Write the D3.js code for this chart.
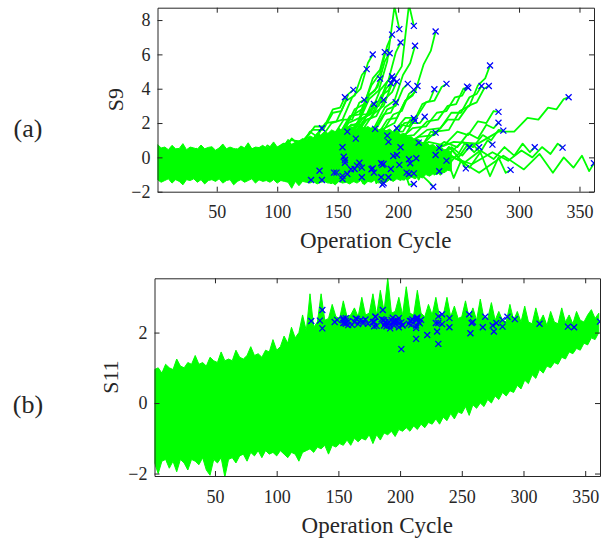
<!DOCTYPE html>
<html>
<head>
<meta charset="utf-8">
<script src="https://cdn.jsdelivr.net/npm/d3@7"></script>
<style>
  body { margin: 0; background: #fff; }
  text { font-family: "Liberation Serif", "Times New Roman", serif; fill: #262626; }
</style>
</head>
<body>
<svg id="chart" width="615" height="539"></svg>
<script>
// engine lifetimes (cycle of the last record, where the blue x sits)
const lifeCycles = [213,201,195,231,202,214,179,189,193,174, 276,185,195,196,194,199,208,216,213,230,
  240,257,258,269,275,163,156,172,180,188, 198,341,283,213,214,222,283,287,158,181,
  199,231,165,191,192,217,202,154,234,259, 267,278,313,336,196,199,155,231,156,209,
  215,240,362,168,166,164,186,187,201,210, 179,194,170,158,180,207,209,213,234,256,
  293,170,186,192,188,154,213,229,137,128, 135,137,147,149,154,156,161,178,188,187];

// S9 value at the last cycle
const s9End = [7.66,7.47,7.15,7.33,6.69,6.5,5.99,6.13,6.07,5.14, 5.35,4.59,4.71,4.55,4.32,4.41,4.28,4.16,3.93,3.97,
  4.28,4.12,4.06,4.16,4.16,3.93,3.5,3.35,3.11,3.35, 3.21,3.5,2.65,2.28,2.14,2.37,2.02,1.56,1.5,1.66,
  1.7,1.44,1.09,1.27,0.9,0.86,0.59,0.59,0.55,0.59, 0.59,0.74,0.59,0.57,0.08,0.14,0.04,0.14,-0.31,-0.11,
  -0.05,-0.19,-0.34,-0.31,-0.48,-0.68,-0.34,-0.44,-0.44,-0.34, -0.64,-0.68,-0.6,-0.97,-0.89,-0.89,-0.97,-0.93,-0.81,-0.64,
  -0.73,-1.16,-1.16,-1.16,-1.51,-1.26,-1.55,-1.71,1.7,-1.32, -0.78,-1.32,-0.89,-0.89,-1.08,-0.15,-0.69,-0.69,-0.38,-1.59];

// S11 value at the last cycle
const s11End = [2.35,1.53,2.28,2.46,2.22,2.4,2.3,2.18,2.36,2.25, 2.03,2.38,2.2,2.31,2.42,2.15,2.33,2.26,1.82,2.03,
  2.41,1.98,2.27,2.45,2.2,2.3,2.25,2.37,2.45,2.29, 2.34,2.15,2.36,2.2,2.43,1.93,2.17,2.45,2.32,2.19,
  2.26,1.68,2.38,2.3,2.12,2.36,2.2,2.4,2.52,2.3, 2.15,2.27,2.25,2.17,2.35,2.41,2.28,2.27,2.33,2.22,
  2.3,2.15,2.31,2.35,2.24,2.4,2.64,2.2,2.29,2.37, 2.18,2.3,2.32,2.21,2.45,2.25,2.33,2.4,2.24,2.52,
  2.38,2.26,2.36,2.2,2.3,2.35,2.13,2.27,2.64,2.33, 2.34,2.12,2.3,2.36,2.27,2.41,2.22,2.3,2.27,2.35];

// S9 tail of every engine, read at these cycles before the end
const knotOffsets = [-120,-95,-75,-58,-45,-34,-25,-17,-10,-4];
const s9Tails = [
  [-0.4,0.3,0.2,1.1,1.3,2.5,3.0,4.5,5.3,8.9],[0.1,-0.2,0.5,0.7,1.7,2.0,3.4,3.9,5.6,8.8],
  [-0.5,0.2,0.1,1.0,1.2,2.4,2.8,4.2,4.9,6.5],[0.2,-0.1,0.5,0.6,1.6,2.0,3.3,3.8,5.4,6.2],
  [-0.3,0.3,0.1,0.9,1.1,2.2,2.5,3.9,4.5,6.1],[0.1,-0.3,0.4,0.5,1.4,1.7,2.9,3.3,4.8,5.5],
  [-0.6,0.1,0.0,0.8,0.9,2.0,2.2,3.5,4.0,5.5],[0.0,-0.4,0.4,0.4,1.4,1.5,2.8,3.1,4.6,5.1],
  [-0.2,0.2,0.0,0.9,0.9,2.0,2.3,3.6,4.1,5.6],[-0.4,0.3,0.2,0.9,1.0,2.0,2.1,3.3,3.6,4.8],
  [0.1,-0.1,0.6,0.6,1.5,1.6,2.7,3.0,4.2,4.6],[0.2,-0.2,0.5,0.4,1.3,1.3,2.4,2.5,3.6,3.9],
  [-0.4,0.3,0.1,0.9,0.9,1.9,1.9,3.1,3.3,4.4],[0.0,-0.3,0.5,0.5,1.3,1.4,2.3,2.6,3.6,3.9],
  [-0.5,0.2,0.0,0.8,0.8,1.7,1.8,2.8,3.0,4.0],[0.1,-0.1,0.4,0.4,1.2,1.3,2.2,2.4,3.4,3.8],
  [-0.3,0.3,0.1,0.8,0.8,1.6,1.8,2.8,3.0,4.0],[0.2,-0.2,0.5,0.4,1.2,1.2,2.2,2.3,3.3,3.6],
  [-0.4,0.2,0.0,0.7,0.7,1.5,1.6,2.5,2.7,3.7],[0.0,-0.2,0.4,0.3,1.1,1.1,2.0,2.1,3.1,3.3],
  [-0.2,0.6,0.5,1.3,1.4,2.3,2.3,3.2,3.3,4.1],[0.3,0.2,0.9,0.9,1.7,1.8,2.6,2.7,3.5,3.6],
  [-0.1,0.5,0.5,1.2,1.3,2.1,2.2,3.0,3.1,4.0],[0.2,0.1,0.8,0.9,1.6,1.7,2.6,2.6,3.5,3.7],
  [-0.1,0.4,0.5,1.2,1.3,2.2,2.2,3.0,3.2,4.0],[-0.5,0.2,0.0,0.8,0.7,1.6,1.6,2.6,2.7,3.7],
  [0.1,-0.3,0.4,0.2,1.0,0.9,1.8,1.8,2.8,2.9],[-0.4,0.2,-0.1,0.6,0.5,1.3,1.3,2.2,2.2,3.2],
  [0.1,-0.3,0.4,0.1,0.9,0.8,1.6,1.6,2.5,2.5],[-0.3,0.1,0.0,0.6,0.5,1.3,1.3,2.1,2.3,3.1],
  [0.2,-0.2,0.3,0.2,0.9,0.9,1.6,1.7,2.5,2.6],[0.2,0.9,0.8,1.5,1.5,2.3,2.2,2.9,2.8,3.4],
  [-0.3,0.4,0.2,0.9,0.7,1.5,1.3,2.1,2.0,2.7],[0.2,-0.5,0.4,-0.1,0.8,0.4,1.3,1.0,1.9,1.8],
  [-0.5,0.1,-0.2,0.5,0.2,1.0,0.8,1.5,1.5,2.2],[0.0,-0.3,0.3,0.1,0.7,0.6,1.2,1.2,2.0,2.0],
  [0.2,-0.2,0.5,0.2,0.9,0.6,1.4,1.1,1.9,1.7],[-0.5,0.3,-0.2,0.6,0.2,0.9,0.6,1.3,1.0,1.6],
  [0.2,-0.6,0.3,-0.4,0.6,0.0,1.0,0.5,1.4,1.1],[-0.6,0.2,-0.4,0.4,-0.1,0.7,0.3,1.1,0.9,1.6],
  [0.3,-0.4,0.2,-0.2,0.5,0.1,0.9,0.6,1.4,1.2],[-0.4,0.3,-0.3,0.3,0.0,0.7,0.3,1.0,0.8,1.5],
  [0.1,-0.7,0.2,-0.4,0.4,-0.1,0.7,0.3,1.0,0.7],[-0.7,0.1,-0.5,0.3,-0.2,0.6,0.1,0.9,0.6,1.3],
  [0.2,-0.6,0.3,-0.5,0.4,-0.2,0.6,0.1,0.9,0.5],[-0.6,0.3,-0.4,0.4,-0.3,0.5,0.0,0.7,0.3,1.0],
  [0.3,-0.7,0.2,-0.5,0.3,-0.4,0.5,-0.1,0.7,0.2],[-0.8,0.1,-0.6,0.3,-0.5,0.4,-0.2,0.6,0.0,0.8],
  [0.1,-0.7,0.3,-0.4,0.4,-0.3,0.5,0.0,0.8,0.3],[-0.5,0.2,-0.6,0.3,-0.3,0.5,-0.1,0.6,0.1,0.8],
  [0.2,-0.6,0.2,-0.4,0.5,-0.2,0.6,0.0,0.7,0.3],[-0.6,0.1,-0.3,0.4,-0.1,0.6,0.1,0.8,0.3,1.0],
  [0.0,-0.6,0.2,-0.3,0.4,-0.1,0.6,0.1,0.8,0.3],[-0.5,0.1,-0.4,0.3,-0.2,0.4,0.0,0.6,0.2,0.8],
  [0.3,-0.8,0.1,-0.6,0.4,-0.5,0.3,-0.3,0.5,-0.2],[-0.9,0.2,-0.5,0.3,-0.7,0.4,-0.4,0.5,-0.2,0.4],
  [0.4,-0.7,0.2,-0.9,0.3,-0.4,0.5,-0.5,0.3,-0.1],[-0.7,0.3,-0.6,0.2,-0.4,0.5,-0.3,0.4,-0.2,0.5],
  [0.3,-1.0,0.4,-0.6,0.2,-0.9,0.3,-0.5,0.1,-0.6],[-0.8,0.4,-1.1,0.3,-0.6,0.5,-0.7,0.2,-0.4,0.3],
  [0.5,-0.9,0.2,-1.0,0.4,-0.5,0.3,-0.8,0.4,-0.4],[-1.0,0.3,-0.7,0.4,-1.1,0.2,-0.5,0.4,-0.8,0.2],
  [0.2,-0.9,0.1,-0.7,0.2,-0.9,0.0,-0.6,0.1,-0.8],[-1.1,0.4,-0.8,0.3,-1.0,0.5,-0.6,0.2,-0.9,0.1],
  [0.4,-1.2,0.2,-0.7,0.5,-1.1,0.1,-0.6,0.3,-0.9],[-0.6,0.5,-1.3,0.2,-0.8,0.4,-1.0,0.0,-0.5,-0.1],
  [0.5,-0.7,0.3,-1.2,0.4,-0.6,0.2,-1.0,0.3,-0.7],[-1.2,0.2,-0.6,0.5,-1.0,0.1,-0.8,0.3,-1.1,0.0],
  [0.2,-1.0,0.5,-0.8,0.1,-1.2,0.3,-0.6,0.2,-0.9],[-0.9,0.3,-1.2,0.4,-0.5,0.2,-1.0,0.5,-0.7,0.1],
  [0.4,-1.1,0.1,-0.7,0.5,-1.3,0.2,-0.8,0.0,-1.1],[-1.3,0.3,-0.9,0.1,-1.1,0.4,-0.6,0.2,-1.2,-0.2],
  [0.1,-0.8,0.4,-1.3,0.2,-0.7,0.3,-1.1,0.0,-0.9],[-0.7,0.3,-1.2,0.5,-0.9,0.1,-1.3,0.2,-0.8,-0.4],
  [0.3,-1.3,0.2,-0.8,0.4,-1.1,0.1,-1.4,-0.2,-0.7],[-1.2,0.4,-0.9,0.2,-1.4,0.3,-0.7,0.0,-1.2,-0.3],
  [0.2,-1.1,0.5,-0.6,0.1,-1.3,0.4,-0.9,-0.1,-1.3],[-0.8,0.2,-1.4,0.3,-0.7,0.4,-1.2,0.1,-0.9,-0.4],
  [0.4,-0.9,0.1,-1.2,0.3,-0.6,0.2,-1.3,-0.1,-1.0],[-0.9,0.3,-0.6,0.4,-1.1,0.1,-0.8,0.2,-1.2,-0.2],
  [0.3,-0.8,0.2,-1.0,0.1,-0.6,0.3,-1.1,0.0,-0.9],[-0.5,0.4,-1.3,0.2,-0.8,0.3,-1.5,-0.1,-0.9,-0.6],
  [0.3,-1.2,0.1,-0.7,0.4,-1.4,0.0,-0.9,-0.3,-1.5],[-1.1,0.2,-0.8,0.4,-1.3,0.1,-0.6,-0.2,-1.4,-0.7],
  [0.2,-0.9,0.4,-1.3,0.0,-0.7,0.2,-1.5,-0.4,-1.1],[-0.9,0.3,-0.6,0.1,-1.3,0.4,-0.8,-0.1,-1.5,-0.6],
  [0.4,-1.0,0.2,-0.7,0.3,-1.3,-0.1,-0.8,-0.3,-1.6],[-0.8,0.3,-1.2,0.2,-0.6,0.1,-1.3,-0.3,-1.0,-1.4],
  [0.3,-0.6,0.4,-0.4,0.7,0.1,1.1,0.6,1.5,1.2],[-0.9,0.5,-0.7,0.2,-1.1,0.4,-0.6,0.1,-1.2,-0.5],
  [0.4,-1.0,0.2,-0.8,0.5,-1.2,0.1,-0.5,0.3,-1.0],[-1.2,0.3,-0.6,0.5,-1.0,0.2,-1.3,0.0,-0.7,-0.9],
  [0.2,-1.1,0.4,-0.7,0.3,-1.3,0.1,-0.6,0.4,-1.2],[-1.0,0.3,-1.2,0.1,-0.5,0.5,-0.9,0.2,-1.3,-0.3],
  [0.3,-0.7,0.5,-1.2,0.2,-0.6,0.4,-1.4,-0.2,-0.8],[-0.8,0.4,-1.1,0.3,-0.6,0.5,-0.9,0.2,-0.5,0.4],
  [0.5,-0.9,0.2,-1.3,0.4,-0.6,0.1,-1.1,0.3,-0.4],[-1.1,0.2,-0.7,0.4,-1.2,0.3,-0.5,0.1,-1.0,-0.2],
  [0.4,-1.0,0.3,-0.9,0.1,-1.2,0.5,-0.6,0.2,-0.8],[-0.6,0.3,-1.1,0.4,-0.8,0.1,-1.3,-0.2,-0.9,-1.2]
];

// envelope of the overlapping noisy records, every 3 cycles from cycle 1
const bandStep = 3;
const s9BandHigh = [0.75,0.55,0.6,0.45,0.7,0.5,0.52,0.8,0.45,0.6, 0.55,0.48,0.72,0.5,0.58,0.62,0.42,0.55,0.78,0.5,
  0.6,0.52,0.47,0.66,0.55,0.85,0.5,0.6,0.57,0.7, 0.55,0.62,0.9,0.6,0.7,0.75,1.05,0.7,0.85,0.95,
  1.1,1.0,1.25,1.15,1.4,1.3,1.5,1.4,1.6,1.5, 1.7,1.55,1.8,1.6,1.75,1.65,1.85,1.7,1.8,1.65,
  1.8,1.6,1.7,1.55,1.65,1.45,1.55,1.35,1.4,1.2, 1.2,1.0,1.05,0.85,0.9,0.7,0.75,0.55,0.6,0.45, 0.45,0.3];
const s9BandLow = [-1.3,-1.45,-1.35,-1.25,-1.5,-1.3,-1.4,-1.6,-1.3,-1.35, -1.25,-1.45,-1.3,-1.55,-1.35,-1.3,-1.4,-1.25,-1.5,-1.35,
  -1.3,-1.6,-1.4,-1.3,-1.45,-1.35,-1.25,-1.5,-1.3,-1.4, -1.35,-1.45,-1.3,-1.5,-1.35,-1.4,-1.45,-1.8,-1.4,-1.65,
  -1.4,-1.45,-1.5,-1.4,-1.55,-1.45,-1.4,-1.5,-1.45,-1.6, -1.4,-1.5,-1.45,-1.55,-1.4,-1.5,-1.35,-1.6,-1.4,-1.45,
  -1.3,-1.5,-1.4,-1.45,-1.3,-1.4,-1.25,-1.35,-1.2,-1.3, -1.15,-1.25,-1.1,-1.2,-1.0,-1.1,-0.95,-1.0,-0.85,-0.9, -0.75,-0.8];
const s11BandHigh = [0.95,1.0,0.85,1.1,1.0,0.95,1.25,1.05,1.0,1.15, 1.1,1.35,1.1,1.15,1.05,1.3,1.2,1.15,1.45,1.2,
  1.25,1.2,1.5,1.3,1.25,1.35,1.6,1.35,1.4,1.3, 1.5,1.45,1.8,1.5,1.6,1.9,1.7,2.15,1.85,2.0,
  2.5,2.05,3.1,2.15,2.3,3.1,2.35,2.4,2.8,2.45, 2.4,2.9,2.45,2.5,2.7,2.45,3.0,2.5,2.55,3.1,
  2.5,3.2,2.6,3.55,2.55,2.6,3.0,2.5,3.3,2.55, 2.5,3.2,2.55,2.45,2.8,2.5,3.0,2.45,2.5,3.0,
  2.45,2.75,2.4,2.45,2.9,2.4,2.7,2.35,2.95,2.4, 2.4,2.85,2.35,2.6,2.35,2.3,2.8,2.35,2.6,2.3,
  2.75,2.3,2.25,2.7,2.3,2.5,2.2,2.6,2.3,2.25, 2.7,2.3,2.5,2.25,2.6,2.35,2.3,2.5,2.65,2.4, 2.55];
const s11BandLow = [-1.7,-2.0,-1.65,-1.6,-1.85,-1.65,-1.95,-1.6,-1.7,-1.9, -1.6,-1.65,-1.75,-1.55,-1.9,-2.05,-1.6,-1.7,-1.55,-2.1,
  -1.6,-1.55,-1.7,-1.5,-1.45,-1.65,-1.4,-1.5,-1.35,-1.55, -1.35,-1.45,-1.4,-1.5,-1.35,-1.45,-1.55,-1.4,-1.45,-1.65,
  -1.4,-1.35,-1.3,-1.4,-1.25,-1.3,-1.2,-1.45,-1.2,-1.25, -1.15,-1.2,-1.05,-1.2,-1.0,-1.1,-1.0,-1.05,-0.9,-1.15,
  -0.9,-1.05,-0.85,-0.9,-0.8,-0.95,-0.75,-0.8,-0.7,-0.8, -0.65,-0.75,-0.6,-0.7,-0.55,-0.6,-0.45,-0.6,-0.4,-0.5,
  -0.3,-0.45,-0.25,-0.3,-0.1,-0.35,-0.05,-0.15,0.0,-0.1, 0.1,0.0,0.2,0.1,0.3,0.2,0.35,0.3,0.5,0.4,
  0.65,0.55,0.8,0.7,0.95,0.85,1.05,1.0,1.15,1.1, 1.3,1.25,1.45,1.4,1.55,1.5,1.7,1.65,1.85,1.8, 2.0];

const xTicks = [50,100,150,200,250,300,350];
const s9Ticks = [-2,0,2,4,6,8];
const s11Ticks = [-2,0,2];

const green = "#00ff00";
const blue = "#0000ff";
const axisColor = "#262626";

const svg = d3.select("#chart");

function drawPanel(p) {
  let x = d3.scaleLinear().domain([1, 362]).range([p.left, p.right]);
  let y = d3.scaleLinear().domain(p.yDomain).range([p.bottom, p.top]);

  let g = svg.append("g");
  g.append("clipPath").attr("id", "clip-" + p.id)
    .append("rect")
    .attr("x", p.left).attr("y", p.top)
    .attr("width", p.right - p.left).attr("height", p.bottom - p.top);

  let plot = g.append("g").attr("clip-path", "url(#clip-" + p.id + ")");

  // the dense part of the records, as one noisy envelope
  let cycles = d3.range(1, 1 + bandStep * p.bandHigh.length, bandStep);
  let band = cycles.map((c, i) => [c, p.bandLow[i], p.bandHigh[i]]);
  plot.append("path")
    .datum(band)
    .attr("d", d3.area().x(d => x(d[0])).y0(d => y(d[1])).y1(d => y(d[2])))
    .attr("fill", green)
    .attr("stroke", green)
    .attr("stroke-width", 1);

  // single records leaving the envelope
  let line = d3.line().x(d => x(d[0])).y(d => y(d[1]));
  if (p.tails) {
    plot.selectAll(".rec")
      .data(p.tails)
      .join("path")
      .attr("class", "rec")
      .attr("d", (t, i) => {
        let pts = knotOffsets.map((o, k) => [lifeCycles[i] + o, t[k]]).filter(d => d[0] >= 1);
        pts.push([lifeCycles[i], p.ends[i]]);
        return line(pts);
      })
      .attr("fill", "none")
      .attr("stroke", green)
      .attr("stroke-width", 1.8)
      .attr("stroke-linejoin", "round");
  }

  // failure points
  plot.selectAll(".end")
    .data(lifeCycles)
    .join("path")
    .attr("class", "end")
    .attr("transform", (c, i) => "translate(" + x(c) + "," + y(p.ends[i]) + ")")
    .attr("d", "M-3,-3L3,3M-3,3L3,-3")
    .attr("stroke", blue)
    .attr("stroke-width", 1.25)
    .attr("fill", "none");

  // box with inward ticks on all four sides
  let fmt = d3.format("d");
  let bottom = g.append("g").attr("transform", "translate(0," + p.bottom + ")")
    .call(d3.axisBottom(x).tickValues(xTicks).tickFormat(fmt).tickSize(-5).tickSizeOuter(0).tickPadding(14));
  let top = g.append("g").attr("transform", "translate(0," + p.top + ")")
    .call(d3.axisTop(x).tickValues(xTicks).tickSize(-5).tickSizeOuter(0).tickFormat(""));
  let left = g.append("g").attr("transform", "translate(" + p.left + ",0)")
    .call(d3.axisLeft(y).tickValues(p.yTicks).tickFormat(fmt).tickSize(-5).tickSizeOuter(0).tickPadding(7));
  let right = g.append("g").attr("transform", "translate(" + p.right + ",0)")
    .call(d3.axisRight(y).tickValues(p.yTicks).tickSize(-5).tickSizeOuter(0).tickFormat(""));
  [bottom, top, left, right].forEach(a => {
    a.selectAll("path, line").attr("stroke", axisColor);
    a.selectAll("text")
      .attr("font-family", '"Liberation Serif", serif')
      .attr("font-size", 18)
      .attr("fill", axisColor);
  });

  g.append("text")
    .attr("x", (p.left + p.right) / 2)
    .attr("y", p.bottom + 56.5)
    .attr("text-anchor", "middle")
    .attr("font-size", 23)
    .text("Operation Cycle");

  g.append("text")
    .attr("transform", "translate(" + p.labelX + "," + (p.top + p.bottom) / 2 + ") rotate(-90)")
    .attr("text-anchor", "middle")
    .attr("font-size", 22)
    .text(p.label);

  g.append("text")
    .attr("x", 28)
    .attr("y", p.tagY)
    .attr("text-anchor", "middle")
    .attr("font-size", 26)
    .text(p.tag);
}

drawPanel({
  id: "a", left: 157.5, right: 594, top: 7.7, bottom: 191.7,
  yDomain: [-2, 8.72], yTicks: s9Ticks,
  bandHigh: s9BandHigh, bandLow: s9BandLow,
  tails: s9Tails, ends: s9End,
  label: "S9", labelX: 123, tag: "(a)", tagY: 136.6
});

drawPanel({
  id: "b", left: 154.5, right: 600, top: 278.3, bottom: 476,
  yDomain: [-2.07, 3.54], yTicks: s11Ticks,
  bandHigh: s11BandHigh, bandLow: s11BandLow,
  tails: null, ends: s11End,
  label: "S11", labelX: 117.5, tag: "(b)", tagY: 413.3
});
</script>
</body>
</html>
